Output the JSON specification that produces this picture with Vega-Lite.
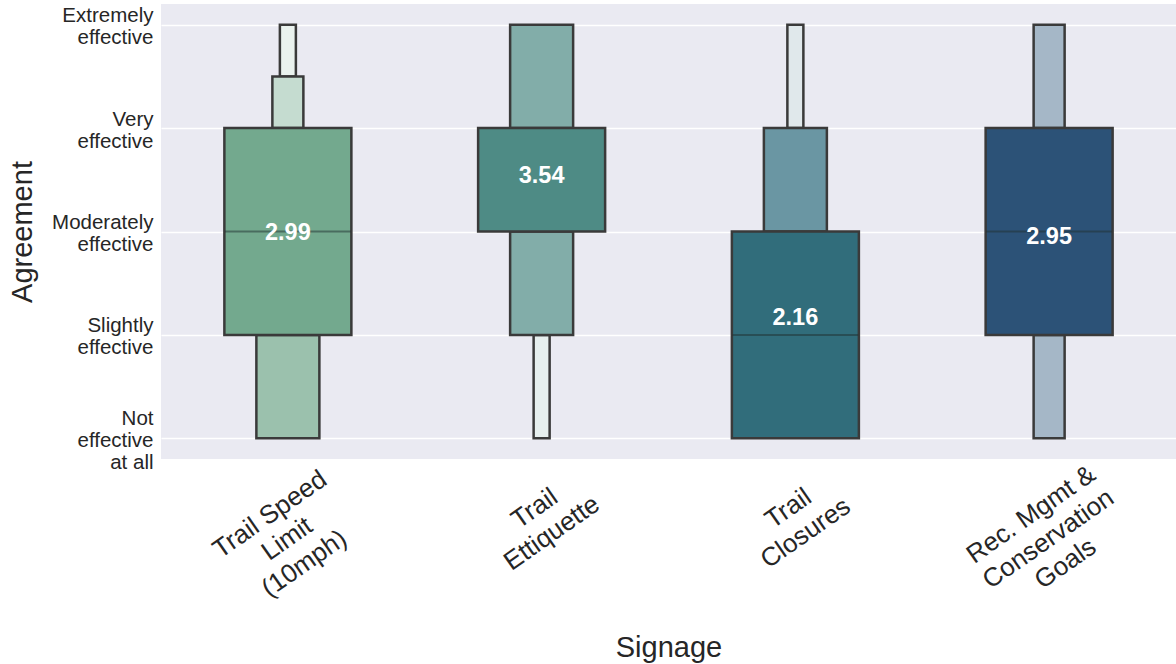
{
  "$schema": "https://vega.github.io/schema/vega-lite/v6.json",
  "autosize": {"type": "none"},
  "width": 1015,
  "height": 455,
  "padding": {"left": 161, "top": 4, "right": 0, "bottom": 205},
  "background": "white",
  "config": {
    "view": {"fill": "#EAEAF2", "stroke": null},
    "font": "Liberation Sans"
  },
  "datasets": {
    "boxes": [
      {"sign": "Trail Speed\nLimit\n(10mph)", "lo": 4.5, "hi": 5, "level": 4, "tone": "speed-4"},
      {"sign": "Trail Speed\nLimit\n(10mph)", "lo": 4, "hi": 4.5, "level": 3, "tone": "speed-3"},
      {"sign": "Trail Speed\nLimit\n(10mph)", "lo": 1, "hi": 2, "level": 2, "tone": "speed-2"},
      {"sign": "Trail Speed\nLimit\n(10mph)", "lo": 2, "hi": 4, "level": 1, "tone": "speed-1"},
      {"sign": "Trail\nEttiquette", "lo": 1, "hi": 2, "level": 4, "tone": "etiq-4"},
      {"sign": "Trail\nEttiquette", "lo": 2, "hi": 3, "level": 2, "tone": "etiq-2"},
      {"sign": "Trail\nEttiquette", "lo": 4, "hi": 5, "level": 2, "tone": "etiq-2"},
      {"sign": "Trail\nEttiquette", "lo": 3, "hi": 4, "level": 1, "tone": "etiq-1"},
      {"sign": "Trail\nClosures", "lo": 4, "hi": 5, "level": 4, "tone": "clos-4"},
      {"sign": "Trail\nClosures", "lo": 3, "hi": 4, "level": 2, "tone": "clos-2"},
      {"sign": "Trail\nClosures", "lo": 1, "hi": 3, "level": 1, "tone": "clos-1"},
      {"sign": "Rec. Mgmt &\nConservation\nGoals", "lo": 4, "hi": 5, "level": 3, "tone": "rec-3"},
      {"sign": "Rec. Mgmt &\nConservation\nGoals", "lo": 1, "hi": 2, "level": 3, "tone": "rec-3"},
      {"sign": "Rec. Mgmt &\nConservation\nGoals", "lo": 2, "hi": 4, "level": 1, "tone": "rec-1"}
    ],
    "medians": [
      {"sign": "Trail Speed\nLimit\n(10mph)", "median": 3},
      {"sign": "Trail\nClosures", "median": 2},
      {"sign": "Rec. Mgmt &\nConservation\nGoals", "median": 3}
    ],
    "means": [
      {"sign": "Trail Speed\nLimit\n(10mph)", "mean": 2.99},
      {"sign": "Trail\nEttiquette", "mean": 3.54},
      {"sign": "Trail\nClosures", "mean": 2.16},
      {"sign": "Rec. Mgmt &\nConservation\nGoals", "mean": 2.95}
    ]
  },
  "encoding": {
    "x": {
      "field": "sign",
      "type": "nominal",
      "sort": ["Trail Speed\nLimit\n(10mph)", "Trail\nEttiquette", "Trail\nClosures", "Rec. Mgmt &\nConservation\nGoals"],
      "scale": {"paddingInner": 0, "paddingOuter": 0},
      "axis": {
        "title": "Signage",
        "titleFontSize": 29,
        "titleFontWeight": "normal",
        "titleColor": "#262626",
        "titleBaseline": "alphabetic",
        "titleY": 197,
        "labelExpr": "split(datum.label, '\\n')",
        "labelAngle": -35,
        "labelAlign": "center",
        "labelBaseline": "middle",
        "labelFontSize": 26,
        "labelLineHeight": 30,
        "labelLimit": 400,
        "labelColor": "#262626",
        "labelPadding": {"condition": {"test": "length(split(datum.label, '\\n')) > 2", "value": 55}, "value": 49},
        "labelOffset": {"condition": {"test": "length(split(datum.label, '\\n')) > 2", "value": -18}, "value": -7},
        "ticks": false,
        "domain": false,
        "grid": false
      }
    }
  },
  "layer": [
    {
      "data": {"name": "boxes"},
      "mark": {"type": "bar", "stroke": "#3a3a3a", "strokeWidth": 2.5, "strokeJoin": "miter", "opacity": 1},
      "encoding": {
        "y": {
          "field": "lo",
          "type": "quantitative",
          "scale": {"domain": [0.8, 5.2], "nice": false, "zero": false},
          "axis": {
            "title": "Agreement",
            "titleFontSize": 29,
            "titleFontWeight": "normal",
            "titleColor": "#262626",
            "titlePadding": 14,
            "values": [1, 2, 3, 4, 5],
            "labelExpr": "datum.value == 5 ? ['Extremely', 'effective'] : datum.value == 4 ? ['Very', 'effective'] : datum.value == 3 ? ['Moderately', 'effective'] : datum.value == 2 ? ['Slightly', 'effective'] : ['Not', 'effective', 'at all']",
            "labelFontSize": 20.5,
            "labelLineHeight": 22,
            "labelColor": "#262626",
            "labelAlign": "right",
            "labelBaseline": "middle",
            "labelOffset": {"condition": {"test": "datum.value == 1", "value": -20}, "value": -9},
            "labelPadding": 8,
            "ticks": false,
            "domain": false,
            "grid": true,
            "gridColor": "white",
            "gridWidth": 1.4
          }
        },
        "y2": {"field": "hi"},
        "size": {
          "field": "level",
          "type": "quantitative",
          "scale": {"type": "threshold", "domain": [1.5, 2.5, 3.5], "range": [127, 63, 31, 16]},
          "legend": null
        },
        "color": {
          "field": "tone",
          "type": "nominal",
          "scale": {
            "domain": ["speed-1", "speed-2", "speed-3", "speed-4", "etiq-1", "etiq-2", "etiq-4", "clos-1", "clos-2", "clos-4", "rec-1", "rec-3"],
            "range": ["#73A98E", "#9BC1AD", "#C5DCD0", "#EAF2EE", "#4E8B85", "#82ADA9", "#E6EFEE", "#316D7B", "#6A96A3", "#E0E8EB", "#2C5277", "#A5B7C7"]
          },
          "legend": null
        }
      }
    },
    {
      "data": {"name": "medians"},
      "mark": {"type": "tick", "size": 126, "thickness": 2, "color": "#1f2f2f", "opacity": 0.5},
      "encoding": {
        "y": {"field": "median", "type": "quantitative"}
      }
    },
    {
      "data": {"name": "means"},
      "mark": {"type": "text", "color": "white", "fontWeight": "bold", "fontSize": 23.5, "baseline": "middle", "align": "center"},
      "encoding": {
        "y": {"field": "mean", "type": "quantitative"},
        "text": {"field": "mean", "type": "quantitative", "format": ".2f"}
      }
    }
  ]
}
